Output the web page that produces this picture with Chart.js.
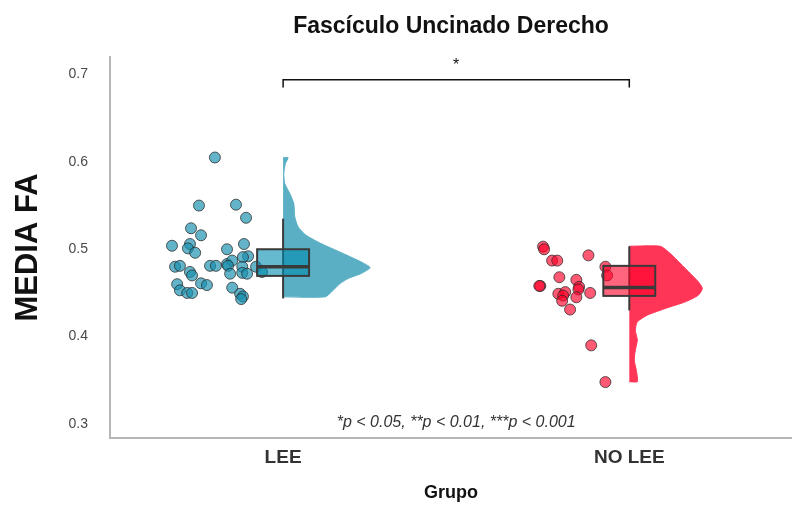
<!DOCTYPE html>
<html>
<head>
<meta charset="utf-8">
<script src="https://cdn.jsdelivr.net/npm/chart.js@4.4.0/dist/chart.umd.min.js"></script>
<style>
  html, body { margin: 0; padding: 0; background: #fff; }
</style>
</head>
<body>
<canvas id="raincloud" width="792" height="507"></canvas>
<script>
// Raincloud FA chart

const groups = ['LEE', 'NO LEE'];
const yTicks = [0.3, 0.4, 0.5, 0.6, 0.7];

// individual FA values and their horizontal jitter (group units)
const leeValues = [0.605, 0.550, 0.551, 0.536, 0.524, 0.516, 0.504, 0.506, 0.501, 0.496, 0.500, 0.506, 0.492,
    0.491, 0.480, 0.481, 0.481, 0.481, 0.483, 0.487, 0.481, 0.480, 0.480, 0.474, 0.470, 0.472, 0.473, 0.472,
    0.474, 0.460, 0.461, 0.459, 0.453, 0.450, 0.450, 0.456, 0.449, 0.446, 0.443];
const leeJitter = [-0.197, -0.243, -0.136, -0.107, -0.266, -0.237, -0.321, -0.269, -0.275, -0.254, -0.162, -0.113, -0.101,
    -0.116, -0.312, -0.298, -0.211, -0.194, -0.162, -0.147, -0.159, -0.118, -0.078, -0.269, -0.263, -0.153, -0.118, -0.104,
    -0.061, -0.306, -0.237, -0.220, -0.298, -0.277, -0.263, -0.147, -0.124, -0.116, -0.121];

const noLeeValues = [0.503, 0.500, 0.487, 0.487, 0.493, 0.480, 0.470, 0.468, 0.465, 0.458, 0.458, 0.457, 0.454,
    0.450, 0.449, 0.451, 0.447, 0.445, 0.441, 0.431, 0.390, 0.348];
const noLeeJitter = [-0.249, -0.246, -0.223, -0.208, -0.118, -0.069, -0.064, -0.202, -0.153, -0.257, -0.260, -0.145, -0.147,
    -0.113, -0.205, -0.185, -0.191, -0.153, -0.194, -0.171, -0.110, -0.069];

// half violin: density evaluated along y
const leeDensityY = [0.6048, 0.5979, 0.5865, 0.5751, 0.5637, 0.5522, 0.5369, 0.5255, 0.516, 0.5065, 0.4951, 0.4855,
    0.479, 0.4722, 0.4665, 0.4608, 0.4531, 0.4455];
const leeDensity = [0.72, 0.33, 0.10, 0.25, 0.97, 1.55, 1.69, 2.17, 3.32, 5.49, 8.67, 11.27, 12.57, 11.27, 9.39, 8.24, 7.23, 6.07];

const noLeeDensityY = [0.5034, 0.4951, 0.4837, 0.4722, 0.4627, 0.4551, 0.4474, 0.4398, 0.4322, 0.4246, 0.4169, 0.4074,
    0.396, 0.3846, 0.3731, 0.3617, 0.354, 0.3484];
const noLeeDensity = [4.48, 5.92, 7.37, 8.82, 9.97, 10.55, 9.97, 8.09, 5.20, 2.60, 1.16, 0.87, 1.16, 0.87, 0.72, 1.01, 1.16, 1.16];

// box stats: whisker low, q1, median, q3, whisker high
const leeBox = [0.4437, 0.4695, 0.480, 0.500, 0.535];
const noLeeBox = [0.430, 0.4466, 0.4562, 0.481, 0.5034];

const sigLevel = 0.694;
const sigLabel = '*';
const pNote = '*p < 0.05, **p < 0.01, ***p < 0.001';

const FONT = "'Liberation Sans', Arial, sans-serif";
const VIOLIN_SCALE = 0.02;
const BOX_HALF = 0.075;

function points(values, jitter, pos) {
    return values.map((v, i) => ({ x: pos + jitter[i], y: v }));
}

function halfViolin(ys, dens, pos) {
    const pts = [{ x: pos, y: ys[0] }];
    ys.forEach((y, i) => pts.push({ x: pos + dens[i] * VIOLIN_SCALE, y: y }));
    pts.push({ x: pos, y: ys[ys.length - 1] });
    return pts;
}

const boxPlugin = {
    id: 'boxes',
    afterDatasetsDraw(chart) {
        const { ctx, scales: { x, y } } = chart;
        const boxes = [
            [1, leeBox, 'rgba(0, 140, 175, 0.6)'],
            [2, noLeeBox, 'rgba(255, 0, 40, 0.6)']
        ];
        ctx.save();
        boxes.forEach(([pos, b, fill]) => {
            const xc = x.getPixelForValue(pos);
            const x0 = x.getPixelForValue(pos - BOX_HALF);
            const x1 = x.getPixelForValue(pos + BOX_HALF);
            // whisker
            ctx.strokeStyle = '#3a3a3a';
            ctx.lineWidth = 2;
            ctx.beginPath();
            ctx.moveTo(xc, y.getPixelForValue(b[0]));
            ctx.lineTo(xc, y.getPixelForValue(b[4]));
            ctx.stroke();
            // box
            const yq3 = y.getPixelForValue(b[3]);
            const yq1 = y.getPixelForValue(b[1]);
            ctx.fillStyle = fill;
            ctx.fillRect(x0, yq3, x1 - x0, yq1 - yq3);
            ctx.strokeRect(x0, yq3, x1 - x0, yq1 - yq3);
            // median
            ctx.lineWidth = 3.5;
            ctx.beginPath();
            const ym = y.getPixelForValue(b[2]);
            ctx.moveTo(x0, ym);
            ctx.lineTo(x1, ym);
            ctx.stroke();
        });

        // significance bracket
        const xa = x.getPixelForValue(1);
        const xb = x.getPixelForValue(2);
        const ys = y.getPixelForValue(sigLevel);
        const yt = y.getPixelForValue(sigLevel - 0.009);
        ctx.strokeStyle = '#111';
        ctx.lineWidth = 1.5;
        ctx.beginPath();
        ctx.moveTo(xa, yt);
        ctx.lineTo(xa, ys);
        ctx.lineTo(xb, ys);
        ctx.lineTo(xb, yt);
        ctx.stroke();
        ctx.fillStyle = '#111';
        ctx.textAlign = 'center';
        ctx.textBaseline = 'middle';
        ctx.font = '16px ' + FONT;
        ctx.fillText(sigLabel, (xa + xb) / 2, y.getPixelForValue(sigLevel + 0.016));

        // p-value note
        ctx.fillStyle = '#333';
        ctx.font = 'italic 16px ' + FONT;
        ctx.fillText(pNote, (xa + xb) / 2, y.getPixelForValue(0.302));
        ctx.restore();
    }
};

const ctx = document.getElementById('raincloud');

const rainChart = new Chart(ctx, {
    type: 'scatter',
    data: {
        datasets: [
            {
                label: 'LEE',
                data: points(leeValues, leeJitter, 1),
                backgroundColor: 'rgba(25, 145, 175, 0.68)',
                borderColor: 'rgba(40, 40, 40, 0.75)',
                borderWidth: 1,
                pointRadius: 5.5,
                pointHoverRadius: 5.5,
                order: 1
            },
            {
                label: 'NO LEE',
                data: points(noLeeValues, noLeeJitter, 2),
                backgroundColor: 'rgba(255, 0, 40, 0.65)',
                borderColor: 'rgba(40, 40, 40, 0.75)',
                borderWidth: 1,
                pointRadius: 5.5,
                pointHoverRadius: 5.5,
                order: 1
            },
            {
                label: 'LEE density',
                data: halfViolin(leeDensityY, leeDensity, 1),
                showLine: true,
                fill: 'shape',
                backgroundColor: '#5aafc5',
                borderColor: '#5aafc5',
                borderWidth: 1,
                pointRadius: 0,
                tension: 0.2,
                order: 2
            },
            {
                label: 'NO LEE density',
                data: halfViolin(noLeeDensityY, noLeeDensity, 2),
                showLine: true,
                fill: 'shape',
                backgroundColor: '#ff3557',
                borderColor: '#ff3557',
                borderWidth: 1,
                pointRadius: 0,
                tension: 0.2,
                order: 2
            }
        ]
    },
    options: {
        responsive: false,
        animation: false,
        layout: { padding: 0, autoPadding: false },
        plugins: {
            legend: { display: false },
            tooltip: { enabled: false },
            title: {
                display: true,
                fullSize: false,
                text: 'Fascículo Uncinado Derecho',
                color: '#111',
                font: { family: FONT, size: 23, weight: 'bold' },
                padding: { top: 13, bottom: 16.4 }
            }
        },
        scales: {
            x: {
                type: 'linear',
                min: 0.5,
                max: 2.47,
                grid: { display: false, drawTicks: false },
                border: { display: true, color: '#b5b5b5', width: 2 },
                afterBuildTicks: (scale) => { scale.ticks = groups.map((g, i) => ({ value: i + 1 })); },
                afterFit: (scale) => { scale.height = 69; },
                ticks: {
                    color: '#333',
                    padding: 8,
                    maxRotation: 0,
                    font: { family: FONT, size: 19, weight: 'bold' },
                    callback: (v) => groups[Math.round(v) - 1]
                },
                title: {
                    display: true,
                    text: 'Grupo',
                    color: '#111',
                    font: { family: FONT, size: 18, weight: 'bold' },
                    padding: { top: 0, bottom: 3 }
                }
            },
            y: {
                min: 0.284,
                max: 0.72,
                grid: { display: false, drawTicks: false },
                border: { display: true, color: '#b5b5b5', width: 2 },
                afterBuildTicks: (scale) => { scale.ticks = yTicks.map(v => ({ value: v })); },
                afterFit: (scale) => { scale.width = 110; },
                ticks: {
                    color: '#4a4a4a',
                    padding: 22,
                    font: { family: FONT, size: 14 },
                    callback: (v) => v.toFixed(1)
                },
                title: {
                    display: true,
                    text: 'MEDIA FA',
                    color: '#111',
                    font: { family: FONT, size: 31, weight: 'bold' },
                    padding: { top: 10, bottom: 0 }
                }
            }
        }
    },
    plugins: [boxPlugin]
});
</script>
</body>
</html>
